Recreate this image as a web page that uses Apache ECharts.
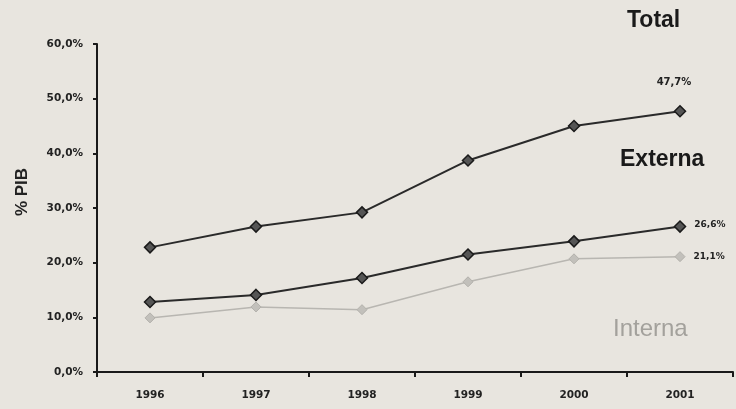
<!DOCTYPE html>
<html>
<head>
<meta charset="utf-8">
<script src="https://cdn.jsdelivr.net/npm/echarts@6/dist/echarts.min.js"></script>
<style>
html,body{margin:0;padding:0;background:#e8e5df;}
#chart{width:736px;height:409px;}
</style>
</head>
<body>
<div id="chart"></div>
<script>
var years = ['1996', '1997', '1998', '1999', '2000', '2001'];
var total = [22.8, 26.6, 29.2, 38.7, 45.0, 47.7];
var externa = [12.8, 14.1, 17.2, 21.5, 23.9, 26.6];
var interna = [9.9, 11.9, 11.4, 16.5, 20.7, 21.1];
var yTicks = [0, 10, 20, 30, 40, 50, 60];
var seriesNames = ['Total', 'Externa', 'Interna'];
var yName = '% PIB';

function fmt(v) { return v.toFixed(1).replace('.', ',') + '%'; }
function lastOnly(arr) {
  return function (p) { return p.dataIndex === arr.length - 1 ? fmt(arr[p.dataIndex]) : ''; };
}

var chart = echarts.init(document.getElementById('chart'));
var ff = '"Liberation Sans", Arial, sans-serif';
var fw = '"DejaVu Sans", Verdana, sans-serif';
chart.setOption({
  backgroundColor: '#e8e5df',
  animation: false,
  grid: { left: 97, right: 3, top: 44, bottom: 37 },
  xAxis: {
    type: 'category',
    data: years,
    boundaryGap: true,
    axisLine: { lineStyle: { color: '#1a1a1a', width: 2 } },
    axisTick: { show: true, length: 5, inside: false, lineStyle: { color: '#1a1a1a', width: 2 } },
    axisLabel: { color: '#222', fontFamily: fw, fontWeight: 'bold', fontSize: 10.5, margin: 18 }
  },
  yAxis: {
    type: 'value',
    min: yTicks[0], max: yTicks[yTicks.length - 1], interval: 10,
    axisLine: { show: true, lineStyle: { color: '#1a1a1a', width: 2 } },
    axisTick: { show: true, length: 4, lineStyle: { color: '#1a1a1a', width: 2 } },
    splitLine: { show: false },
    axisLabel: {
      color: '#222', fontFamily: fw, fontWeight: 'bold', fontSize: 10.5, margin: 14,
      formatter: function (v) { return fmt(v); }
    }
  },
  series: [
    {
      name: seriesNames[0], type: 'line', data: total,
      symbol: 'diamond', symbolSize: 11,
      lineStyle: { color: '#2a2a2a', width: 2 },
      itemStyle: { color: '#555', borderColor: '#1a1a1a', borderWidth: 1.5 },
      label: { show: true, position: 'top', distance: 18, offset: [-6, 0], formatter: lastOnly(total),
        color: '#222', fontFamily: fw, fontWeight: 'bold', fontSize: 10 }
    },
    {
      name: seriesNames[1], type: 'line', data: externa,
      symbol: 'diamond', symbolSize: 11,
      lineStyle: { color: '#2a2a2a', width: 2 },
      itemStyle: { color: '#555', borderColor: '#1a1a1a', borderWidth: 1.5 },
      label: { show: true, position: 'right', distance: 8, offset: [0, -2], formatter: lastOnly(externa),
        color: '#222', fontFamily: fw, fontWeight: 'bold', fontSize: 9 }
    },
    {
      name: seriesNames[2], type: 'line', data: interna,
      symbol: 'diamond', symbolSize: 10,
      lineStyle: { color: '#b8b6b1', width: 1.5 },
      itemStyle: { color: '#c2c0bb', borderColor: '#b3b1ac', borderWidth: 1 },
      label: { show: true, position: 'right', distance: 8, formatter: lastOnly(interna),
        color: '#222', fontFamily: fw, fontWeight: 'bold', fontSize: 9 }
    }
  ],
  graphic: [
    { type: 'text', left: 627, top: 9, style: { text: seriesNames[0], fill: '#1a1a1a', font: 'bold 23px ' + ff } },
    { type: 'text', left: 620, top: 148, style: { text: seriesNames[1], fill: '#1a1a1a', font: 'bold 23px ' + ff } },
    { type: 'text', left: 613, top: 317, style: { text: seriesNames[2], fill: '#a3a19c', font: '24px ' + ff } },
    { type: 'text', x: 22, y: 192, rotation: Math.PI / 2,
      style: { text: yName, fill: '#222', font: 'bold 17px ' + ff, align: 'center', verticalAlign: 'middle' } }
  ]
});
</script>
</body>
</html>
